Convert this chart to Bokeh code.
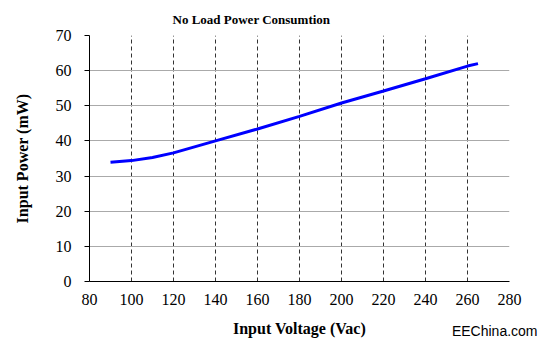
from bokeh.plotting import figure
from bokeh.models import Title, FixedTicker, Range1d
from bokeh.embed import file_html
from bokeh.resources import INLINE

voltage = [90, 100, 110, 120, 140, 160, 180, 200, 220, 240, 260, 265]
power = [33.9, 34.4, 35.3, 36.6, 40.0, 43.4, 47.0, 50.8, 54.2, 57.7, 61.3, 62.0]
x_ticks = [80, 100, 120, 140, 160, 180, 200, 220, 240, 260, 280]
y_ticks = [0, 10, 20, 30, 40, 50, 60, 70]

SERIF = "'Liberation Serif', serif"

p = figure(width=545, height=344, output_backend="svg", toolbar_location=None,
           x_range=Range1d(80, 280), y_range=Range1d(0, 70),
           min_border_left=89, min_border_right=36, min_border_top=35, min_border_bottom=63)
p.outline_line_color = None
p.background_fill_color = "white"
p.border_fill_color = "white"

p.line(voltage, power, line_color="#0000FF", line_width=3)

p.xaxis.ticker = FixedTicker(ticks=x_ticks)
p.yaxis.ticker = FixedTicker(ticks=y_ticks)
for ax in (p.xaxis, p.yaxis):
    ax.axis_line_color = "black"
    ax.axis_line_width = 1
    ax.major_label_text_font = SERIF
    ax.major_label_text_font_size = "16px"
    ax.major_label_text_color = "black"
    ax.minor_tick_line_color = None
    ax.axis_label_text_font = SERIF
    ax.axis_label_text_font_style = "bold"
    ax.axis_label_text_font_size = "16px"
    ax.axis_label_text_color = "black"
p.xaxis.major_tick_out = 0
p.xaxis.major_tick_in = 0
p.xaxis.major_label_standoff = 12
p.xaxis.axis_label = "Input Voltage (Vac)"
p.xaxis.axis_label_standoff = 12
p.yaxis.major_tick_out = 5
p.yaxis.major_tick_in = 0
p.yaxis.major_tick_line_color = "black"
p.yaxis.major_label_standoff = 13
p.yaxis.axis_label = "Input Power (mW)"
p.yaxis.axis_label_standoff = 22

p.xgrid.grid_line_color = "#333333"
p.xgrid.grid_line_dash = "4 3"
p.xgrid.grid_line_width = 1
p.ygrid.grid_line_color = "#aaaaaa"
p.ygrid.grid_line_width = 1

p.title.text = "No Load Power Consumtion"
p.title.text_font = SERIF
p.title.text_font_style = "bold"
p.title.text_font_size = "13px"
p.title.text_color = "black"
p.title.align = "left"
p.title.offset = 83
p.title.standoff = 18

p.add_layout(Title(text="EEChina.com", text_font="Liberation Sans", text_font_size="14px",
                   text_font_style="normal", text_color="black", align="right",
                   vertical_align="top", offset=-28, standoff=-34), "below")

open("out.html", "w").write(file_html(p, INLINE))
